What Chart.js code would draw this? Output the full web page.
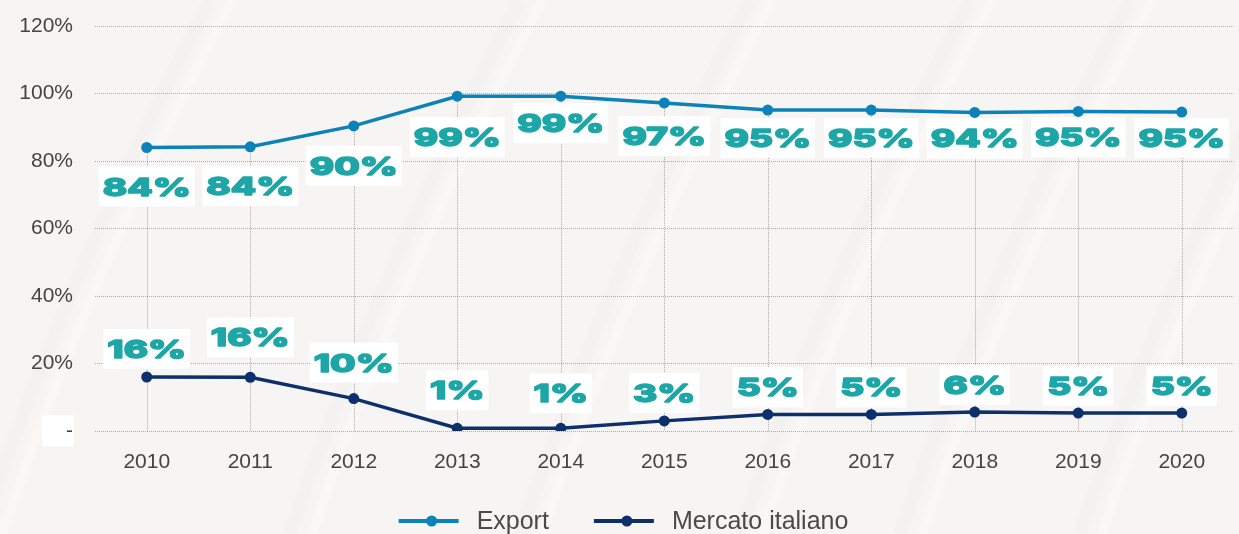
<!DOCTYPE html>
<html>
<head>
<meta charset="utf-8">
<title>Export / Mercato italiano</title>
<script src="https://cdn.jsdelivr.net/npm/chart.js@4.4.1/dist/chart.umd.min.js"></script>
<style>
  html, body { margin: 0; padding: 0; background: #f6f5f4; }
  #wrap { width: 1239px; height: 534px; position: relative; }
</style>
</head>
<body>
<div id="wrap"><canvas id="shareChart"></canvas></div>
<script>
// share of sales by year (%)
const years = ['2010', '2011', '2012', '2013', '2014', '2015', '2016', '2017', '2018', '2019', '2020'];
const exportShare = [84.0, 84.2, 90.4, 99.2, 99.2, 97.2, 95.1, 95.1, 94.4, 94.7, 94.5];
const italyShare = [16.0, 15.9, 9.6, 0.8, 0.8, 3.0, 4.9, 4.9, 5.6, 5.3, 5.3];
const yTickLabels = ['-', '20%', '40%', '60%', '80%', '100%', '120%'];

const EXPORT_COLOR = '#0b82b8';
const ITALY_COLOR = '#0d2f6c';
const LABEL_COLOR = '#1ea6a7';
const AXIS_FONT = '"Liberation Sans", Arial, sans-serif';
const LABEL_FONT = '800 25px Inter, "DejaVu Sans", sans-serif';

// soft diagonal streaks on the page background
const backdrop = {
    id: 'backdrop',
    beforeDraw(chart) {
        const ctx = chart.ctx;
        ctx.save();
        ctx.fillStyle = '#f6f5f4';
        ctx.fillRect(0, 0, chart.width, chart.height);
        const starts = [-20, 290, 520, 740, 900, 1080];
        starts.forEach((sx) => {
            ctx.beginPath();
            ctx.moveTo(sx, chart.height);
            ctx.quadraticCurveTo(sx + 90, chart.height / 2, sx + 230, 0);
            ctx.lineWidth = 14;
            ctx.strokeStyle = 'rgba(0,0,0,0.012)';
            ctx.stroke();
            ctx.beginPath();
            ctx.moveTo(sx + 22, chart.height);
            ctx.quadraticCurveTo(sx + 112, chart.height / 2, sx + 252, 0);
            ctx.lineWidth = 10;
            ctx.strokeStyle = 'rgba(255,255,255,0.3)';
            ctx.stroke();
        });
        ctx.restore();
    }
};

// dotted drop lines from the export points down to the axis
const dropLines = {
    id: 'dropLines',
    beforeDatasetsDraw(chart) {
        const ctx = chart.ctx;
        const bottom = chart.chartArea.bottom;
        ctx.save();
        ctx.strokeStyle = 'rgba(0,0,0,0.3)';
        ctx.lineWidth = 1;
        ctx.setLineDash([1, 1]);
        chart.getDatasetMeta(0).data.forEach(pt => {
            ctx.beginPath();
            ctx.moveTo(Math.round(pt.x) + 0.5, pt.y);
            ctx.lineTo(Math.round(pt.x) + 0.5, bottom);
            ctx.stroke();
        });
        ctx.restore();
    }
};

// white boxes with the rounded value of each point
const valueBoxes = {
    id: 'valueBoxes',
    afterDatasetsDraw(chart, args, opts) {
        const ctx = chart.ctx;
        ctx.save();
        ctx.font = LABEL_FONT;
        // widen the glyphs so a three character label spans opts.refWidth
        const stretch = opts.refWidth / ctx.measureText('84%').width;
        ctx.restore();
        chart.data.datasets.forEach((ds, di) => {
            const side = opts.sides[di];
            const gaps = opts.gaps[di];
            chart.getDatasetMeta(di).data.forEach((pt, i) => {
                const text = Math.round(ds.data[i]) + '%';
                ctx.save();
                ctx.font = LABEL_FONT;
                const w = ctx.measureText(text).width * stretch;
                const bw = w + 8, bh = 40;
                const top = side === 'below' ? pt.y + gaps[i] : pt.y - gaps[i] - bh;
                ctx.fillStyle = '#ffffff';
                ctx.fillRect(pt.x - bw / 2, top, bw, bh);
                ctx.translate(pt.x, top + bh / 2 + 9);
                ctx.scale(stretch, 1);
                ctx.fillStyle = LABEL_COLOR;
                ctx.strokeStyle = LABEL_COLOR;
                ctx.lineWidth = 1.4;
                ctx.lineJoin = 'round';
                ctx.textAlign = 'center';
                ctx.textBaseline = 'alphabetic';
                ctx.fillText(text, 0, 0);
                ctx.strokeText(text, 0, 0);
                ctx.restore();
            });
        });
    }
};

// legend with a line-and-dot marker for each series
const lineLegend = {
    id: 'lineLegend',
    afterDraw(chart) {
        const ctx = chart.ctx;
        ctx.save();
        ctx.font = '25px ' + AXIS_FONT;
        const items = chart.data.datasets.map(ds => ({
            label: ds.label,
            color: ds.borderColor,
            w: ctx.measureText(ds.label).width
        }));
        const lineW = 60, textGap = 18, itemGap = 45;
        let total = itemGap * (items.length - 1);
        items.forEach(it => { total += lineW + textGap + it.w; });
        let x = chart.width / 2 - total / 2 + 4;
        const y = chart.chartArea.bottom + 90;
        items.forEach(it => {
            ctx.strokeStyle = it.color;
            ctx.lineWidth = 4;
            ctx.beginPath();
            ctx.moveTo(x, y);
            ctx.lineTo(x + lineW, y);
            ctx.stroke();
            ctx.fillStyle = it.color;
            ctx.beginPath();
            ctx.arc(x + lineW / 2 + 3, y, 5.5, 0, Math.PI * 2);
            ctx.fill();
            ctx.fillStyle = '#4a4a4a';
            ctx.textBaseline = 'middle';
            ctx.fillText(it.label, x + lineW + textGap, y + 1);
            x += lineW + textGap + it.w + itemGap;
        });
        ctx.restore();
    }
};

const ctx = document.getElementById('shareChart').getContext('2d');
new Chart(ctx, {
    type: 'line',
    data: {
        labels: years,
        datasets: [
            {
                label: 'Export',
                data: exportShare,
                borderColor: EXPORT_COLOR,
                backgroundColor: EXPORT_COLOR,
                borderWidth: 3.5,
                pointRadius: 5.5,
                pointBackgroundColor: EXPORT_COLOR,
                pointBorderWidth: 0,
                tension: 0
            },
            {
                label: 'Mercato italiano',
                data: italyShare,
                borderColor: ITALY_COLOR,
                backgroundColor: ITALY_COLOR,
                borderWidth: 3.5,
                pointRadius: 5.5,
                pointBackgroundColor: ITALY_COLOR,
                pointBorderWidth: 0,
                tension: 0
            }
        ]
    },
    options: {
        responsive: true,
        maintainAspectRatio: false,
        animation: false,
        layout: { padding: { top: 26, right: 2, bottom: 53, left: 0 } },
        plugins: {
            legend: { display: false },
            tooltip: { enabled: false },
            valueBoxes: {
                refWidth: 88,
                sides: ['below', 'above'],
                gaps: [
                    [19, 19, 20, 21, 7, 13, 8, 8, 6, 6, 6],
                    [8, 20, 16, 18, 15, 8, 7, 7, 7, 7, 7]
                ]
            }
        },
        scales: {
            x: {
                offset: true,
                grid: { display: false },
                border: { display: false },
                ticks: {
                    color: '#444',
                    padding: 11,
                    font: { family: AXIS_FONT, size: 21 }
                },
                afterFit: (scale) => { scale.height = 50; }
            },
            y: {
                min: 0,
                max: 120,
                grid: {
                    color: 'rgba(0,0,0,0.3)',
                    lineWidth: 1,
                    drawTicks: false
                },
                border: { display: false, dash: [1, 1] },
                ticks: {
                    stepSize: 20,
                    color: '#444',
                    padding: 22,
                    font: { family: AXIS_FONT, size: 21 },
                    callback: (value, index) => yTickLabels[index],
                    showLabelBackdrop: (c) => c.tick && c.tick.value === 0,
                    backdropColor: '#ffffff',
                    backdropPadding: { left: 24, right: 1, top: 3, bottom: 3 }
                },
                afterFit: (scale) => {
                    // fixed axis width; the outer layout padding sets the top edge
                    scale.width = 95;
                    scale.paddingTop = 0;
                    scale.paddingBottom = 0;
                }
            }
        }
    },
    plugins: [backdrop, dropLines, valueBoxes, lineLegend]
});
</script>
</body>
</html>
